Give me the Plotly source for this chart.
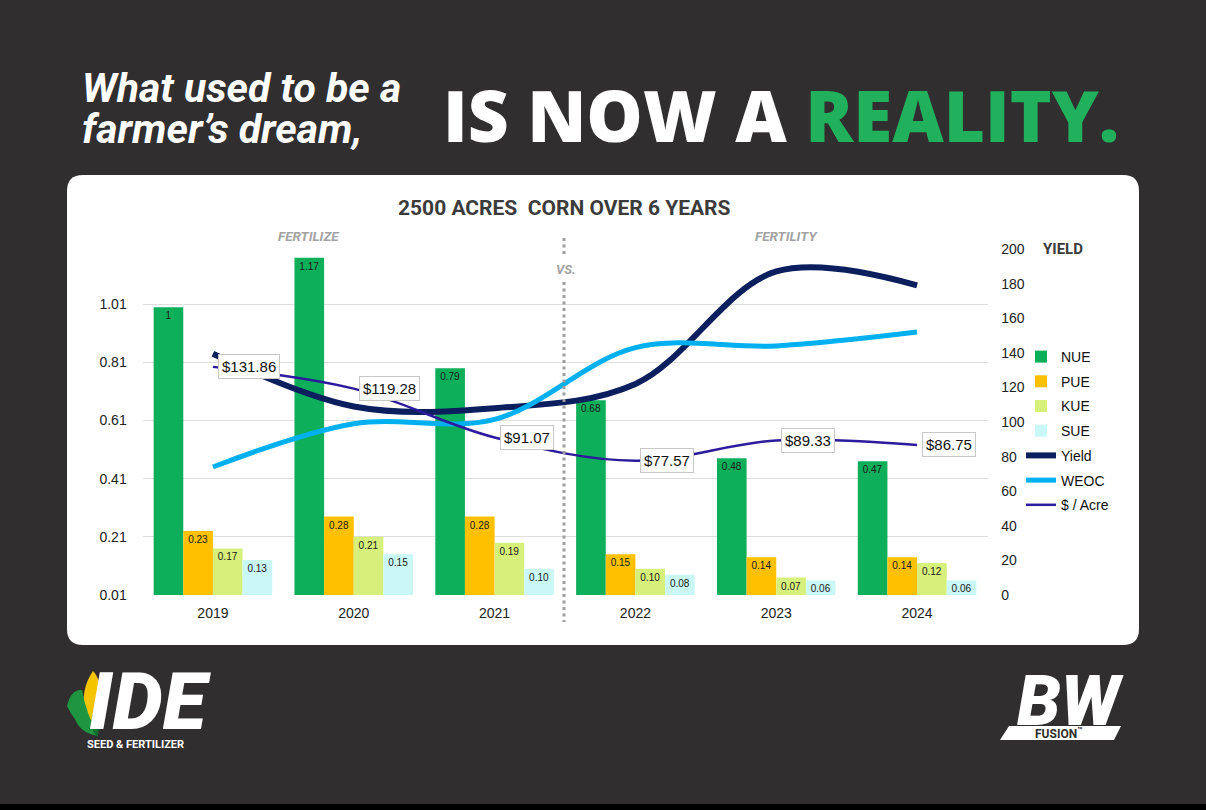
import plotly.graph_objects as go

W, H = 1206, 810

# ---------------- data ----------------
years = ["2019", "2020", "2021", "2022", "2023", "2024"]
nue = [1.00, 1.17, 0.79, 0.68, 0.48, 0.47]
pue = [0.23, 0.28, 0.28, 0.15, 0.14, 0.14]
kue = [0.17, 0.21, 0.19, 0.10, 0.07, 0.12]
sue = [0.13, 0.15, 0.10, 0.08, 0.06, 0.06]
yield_bu = [139.5, 109, 108, 122, 187, 179]
weoc = [74, 99, 101.5, 143, 144, 152]
cost_acre = [131.86, 119.28, 91.07, 77.57, 89.33, 86.75]
left_ticks = [0.01, 0.21, 0.41, 0.61, 0.81, 1.01]
left_ticktext = ["0.01", "0.21", "0.41", "0.61", "0.81", "1.01"]
right_ticks = [0, 20, 40, 60, 80, 100, 120, 140, 160, 180, 200]

# ---------------- helpers (pixel -> paper) ----------------
def X(x):
    return x / W

def Y(y):
    return 1 - y / H

def rrect(x0, y0, x1, y1, r):
    return (f"M{X(x0+r)},{Y(y0)} L{X(x1-r)},{Y(y0)} Q{X(x1)},{Y(y0)} {X(x1)},{Y(y0+r)} "
            f"L{X(x1)},{Y(y1-r)} Q{X(x1)},{Y(y1)} {X(x1-r)},{Y(y1)} "
            f"L{X(x0+r)},{Y(y1)} Q{X(x0)},{Y(y1)} {X(x0)},{Y(y1-r)} "
            f"L{X(x0)},{Y(y0+r)} Q{X(x0)},{Y(y0)} {X(x0+r)},{Y(y0)} Z")

def poly(pts):
    s = f"M{X(pts[0][0])},{Y(pts[0][1])} "
    for p in pts[1:]:
        s += f"L{X(p[0])},{Y(p[1])} "
    return s + "Z"

def qpath(cmds):
    out = []
    for c in cmds:
        op = c[0]
        nums = c[1:]
        coords = []
        for i in range(0, len(nums), 2):
            coords.append(f"{X(nums[i])},{Y(nums[i+1])}")
        out.append(op + " ".join(coords))
    return " ".join(out) + " Z"

def lab(v):
    return "1" if v == 1 else f"{v:.2f}"

FONT = "Liberation Sans, Arial, sans-serif"

fig = go.Figure()

bar_specs = [("NUE", nue, "#0daf5a"), ("PUE", pue, "#ffc000"),
             ("KUE", kue, "#d7ef7b"), ("SUE", sue, "#c9f8f7")]
for i, (nm, vals, col) in enumerate(bar_specs):
    fig.add_trace(go.Bar(
        x=years, y=vals, name=nm, marker=dict(color=col, line=dict(width=0)),
        text=[lab(v) for v in vals], textposition="inside", insidetextanchor="end",
        textangle=0, insidetextfont=dict(size=10, color="#1a1a1a", family=FONT),
        legendgroup=f"g{i}", hoverinfo="skip",
    ))

line_specs = [("Yield", yield_bu, "#0b1f5e", 6), ("WEOC", weoc, "#00b0f0", 5),
              ("$ / Acre", cost_acre, "#2c1b9c", 2.5)]
for j, (nm, vals, col, w) in enumerate(line_specs):
    fig.add_trace(go.Scatter(
        x=years, y=vals, name=nm, yaxis="y2", mode="lines",
        line=dict(color=col, width=w, shape="spline", smoothing=1.0),
        legendgroup=f"l{j}", hoverinfo="skip",
    ))

annotations = []
for idx, v in enumerate(cost_acre):
    annotations.append(dict(
        x=idx, y=v, xref="x", yref="y2", text=f"${v:.2f}", showarrow=False,
        xanchor="left", yanchor="middle", xshift=5,
        bgcolor="white", bordercolor="#c8c8c8", borderwidth=1, borderpad=3,
        font=dict(family=FONT, size=15, color="#111111"),
    ))

def txt(x, y, text, size, color, family="Roboto", weight="bold", style="normal",
        xanchor="center", yanchor="middle"):
    annotations.append(dict(
        x=X(x), y=Y(y), xref="paper", yref="paper", text=text, showarrow=False,
        xanchor=xanchor, yanchor=yanchor,
        font=dict(family=family, size=size, color=color, weight=weight, style=style),
    ))

# header
txt(80, 88, "What used to be a", 41, "white", style="italic", xanchor="left")
txt(80, 129, "farmer\u2019s dream,", 41, "white", style="italic", xanchor="left")
txt(781, 115, "IS NOW A <span style='color:#21b15d'>REALITY.</span>", 71, "white",
    family="Open Sans", weight=800)

# chart texts
txt(564, 208, "2500 ACRES\u00a0 CORN OVER 6 YEARS", 21, "#3b3b3b")
txt(309, 236, "FERTILIZE", 13.5, "#a3a3a3", style="italic")
txt(786, 236, "FERTILITY", 13.5, "#a3a3a3", style="italic")
txt(566, 269, "VS.", 13, "#a3a3a3", style="italic")
txt(1063, 249, "YIELD", 15, "#3b3b3b")

# logos text
txt(150, 702, "IDE", 80, "white", family="Roboto", style="italic", weight=900)
txt(135, 744, "SEED &amp; FERTILIZER", 11, "white", family="Roboto")
txt(1070, 701, "BW", 70, "white", family="Roboto", style="italic", weight=900)
txt(1058, 733, "FUSION<sup>\u2122</sup>", 12, "#302e2f", family="Roboto")

shapes = [
    dict(type="path", xref="paper", yref="paper", path=rrect(67, 175, 1139, 645, 16),
         fillcolor="white", line=dict(width=0), layer="below"),
    dict(type="rect", xref="paper", yref="paper", x0=0, x1=1, y0=0, y1=Y(804),
         fillcolor="#000000", line=dict(width=0), layer="below"),
    dict(type="line", xref="paper", yref="paper", x0=X(564), x1=X(564), y0=Y(238), y1=Y(255),
         line=dict(color="#9e9e9e", width=3, dash="3px,3.5px"), layer="above"),
    dict(type="line", xref="paper", yref="paper", x0=X(564), x1=X(564), y0=Y(282), y1=Y(622),
         line=dict(color="#9e9e9e", width=3, dash="3px,3.5px"), layer="above"),
    # corn cob
    dict(type="path", xref="paper", yref="paper",
         path=qpath([("M", 93, 671), ("Q", 104, 682, 101, 716), ("Q", 93, 726, 85, 714),
                     ("Q", 80, 690, 93, 671)]),
         fillcolor="#f5c400", line=dict(width=0), layer="above"),
    dict(type="path", xref="paper", yref="paper",
         path=qpath([("M", 67, 706), ("Q", 71, 689, 82, 690), ("Q", 86, 713, 98, 736),
                     ("Q", 80, 733, 75, 719), ("Q", 70, 713, 67, 706)]),
         fillcolor="#1e9640", line=dict(width=0), layer="above"),
    dict(type="path", xref="paper", yref="paper",
         path=qpath([("M", 102, 690), ("Q", 105, 716, 97, 737), ("Q", 90, 730, 92, 716),
                     ("Q", 97, 705, 102, 690)]),
         fillcolor="#0f6e2d", line=dict(width=0), layer="above"),
    # fusion band
    dict(type="path", xref="paper", yref="paper",
         path=poly([(1009, 726), (1121, 726), (1114, 740), (1000, 740)]),
         fillcolor="white", line=dict(width=0), layer="below"),
]

fig.update_layout(
    width=W, height=H,
    margin=dict(l=0, r=0, t=0, b=0, pad=0, autoexpand=False),
    paper_bgcolor="#302e2f",
    plot_bgcolor="rgba(0,0,0,0)",
    barmode="group", bargap=0.158, bargroupgap=0,
    showlegend=True,
    legend=dict(x=X(1021), y=Y(341), xanchor="left", yanchor="top",
                bgcolor="rgba(0,0,0,0)", font=dict(family=FONT, size=14, color="#111111"),
                tracegroupgap=3.5, traceorder="grouped"),
    xaxis=dict(type="category", domain=[X(142.5), X(987.5)], showgrid=False,
               showline=False, zeroline=False, ticks="outside", ticklen=5,
               tickcolor="rgba(0,0,0,0)", automargin=False,
               tickfont=dict(family=FONT, size=14, color="#222222"), fixedrange=True),
    yaxis=dict(domain=[Y(595), Y(249)], range=[0.01, 1.2], tickvals=left_ticks,
               ticktext=left_ticktext, showgrid=True, gridcolor="#dedede", gridwidth=1,
               zeroline=False, showline=False, ticks="outside", ticklen=12,
               tickcolor="rgba(0,0,0,0)", automargin=False,
               tickfont=dict(family=FONT, size=14, color="#222222")),
    yaxis2=dict(overlaying="y", side="right", range=[0, 200], tickvals=right_ticks,
                showgrid=False, zeroline=False, showline=False, ticks="outside",
                ticklen=10, tickcolor="rgba(0,0,0,0)", automargin=False,
                tickfont=dict(family=FONT, size=14, color="#222222")),
    annotations=annotations,
    shapes=shapes,
)

css_fix = (
    "var st=document.createElement('style');"
    "st.innerHTML='html,body{margin:0!important;padding:0!important;overflow:hidden!important;}';"
    "document.head.appendChild(st);"
)

fig.write_html("out.html", config={"displayModeBar": False}, post_script=css_fix)
